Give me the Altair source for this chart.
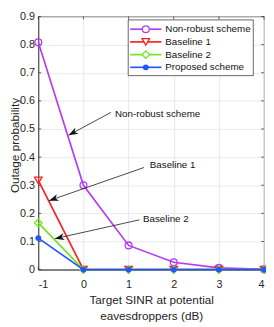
import math
import altair as alt
import pandas as pd

# ---------------- data ----------------
x_vals = [-1, 0, 1, 2, 3, 4]
nonrobust = [0.808, 0.300, 0.086, 0.026, 0.006, 0.001]
baseline1 = [0.317, 0.0, 0.0, 0.0, 0.0, 0.0]
baseline2 = [0.166, 0.0, 0.0, 0.0, 0.0, 0.0]
proposed = [0.112, 0.0, 0.0, 0.0, 0.0, 0.0]

series_names = ["Non-robust scheme", "Baseline 1", "Baseline 2", "Proposed scheme"]
series_values = [nonrobust, baseline1, baseline2, proposed]
series_colors = ["#B43CF0", "#FF1E1E", "#6EE61E", "#2256FF"]
series_shapes = ["circle", "triangle-down", "diamond", "circle"]
series_filled = [False, False, False, True]
series_sizes = [49, 60, 60, 36]

x_ticks = [-1, 0, 1, 2, 3, 4]
y_ticks = [0, 0.1, 0.2, 0.3, 0.4, 0.5, 0.6, 0.7, 0.8, 0.9]

ann_text = ["Non-robust scheme", "Baseline 1", "Baseline 2"]
ann_text_x = [0.70, 1.47, 1.32]
ann_text_y = [0.552, 0.370, 0.181]
ann_tail_x = [0.61, 1.34, 1.24]
ann_tail_y = [0.559, 0.363, 0.177]
ann_tip_x = [-0.33, -0.763, -0.634]
ann_tip_y = [0.478, 0.245, 0.110]

x_title = ["Target SINR at potential", "eavesdroppers (dB)"]
y_title = "Outage probability"

# ---------------- layout ----------------
W, H = 231, 259
PAD_L = 31
FONT = "Liberation Sans"
TXT = "#262626"

xs = alt.Scale(domain=[-1, 4], nice=False, zero=False)
ys = alt.Scale(domain=[0, 0.9], nice=False, zero=False)

x_axis = alt.Axis(values=x_ticks, labelExpr="replace(format(datum.value, 'd'), '\u2212', '-')",
                  title=x_title, grid=True,
                  ticks=False, tickSize=0, labelPadding=9, labelFontSize=11,
                  titleFontSize=12, titleLineHeight=16, titleX=W / 2, titleY=26,
                  titleBaseline="top", titleAlign="center")
y_axis = alt.Axis(values=y_ticks, format=".1~f", title=y_title, grid=True,
                  ticks=False, tickSize=0, labelPadding=4, labelFontSize=11,
                  titleFontSize=12, titleX=-(PAD_L - 6.5), titleY=H / 2 + 2, titleAngle=270,
                  titleBaseline="middle", titleAlign="center")


def X(field):
    return alt.X(field, type="quantitative", scale=xs, axis=x_axis)


def Y(field):
    return alt.Y(field, type="quantitative", scale=ys, axis=y_axis)


layers = []

# inward ticks on all four sides
dfx = pd.DataFrame({"x": x_ticks})
dfy = pd.DataFrame({"y": y_ticks})
tick_style = dict(color=TXT, strokeWidth=0.7)
layers.append(alt.Chart(dfx).mark_rule(**tick_style).encode(
    x=X("x"), y=alt.value(H), y2=alt.value(H - 3)))
layers.append(alt.Chart(dfx).mark_rule(**tick_style).encode(
    x=X("x"), y=alt.value(0), y2=alt.value(3)))
layers.append(alt.Chart(dfy).mark_rule(**tick_style).encode(
    y=Y("y"), x=alt.value(0), x2=alt.value(3)))
layers.append(alt.Chart(dfy).mark_rule(**tick_style).encode(
    y=Y("y"), x=alt.value(W), x2=alt.value(W - 3)))

# data series
for name, vals, col, shp, fil, sz in zip(series_names, series_values, series_colors,
                                          series_shapes, series_filled, series_sizes):
    df = pd.DataFrame({"x": x_vals, "y": vals})
    layers.append(alt.Chart(df).mark_line(color=col, strokeWidth=1.7).encode(
        x=X("x"), y=Y("y")))
    pt_kwargs = dict(shape=shp, filled=fil, size=sz, strokeWidth=1.3, opacity=1)
    if fil:
        pt_kwargs["color"] = col
    else:
        pt_kwargs["stroke"] = col
        pt_kwargs["fill"] = "transparent"
    layers.append(alt.Chart(df).mark_point(**pt_kwargs).encode(x=X("x"), y=Y("y")))

# annotations with arrows
sx = W / 5.0
sy = H / 0.9
angles = []
for tx, ty, hx, hy in zip(ann_tail_x, ann_tail_y, ann_tip_x, ann_tip_y):
    dx = (hx - tx) * sx
    dy = -(hy - ty) * sy
    angles.append(math.degrees(math.atan2(dx, -dy)) % 360)

ann = pd.DataFrame({
    "t": ann_text, "tx": ann_text_x, "ty": ann_text_y,
    "ax": ann_tail_x, "ay": ann_tail_y, "hx": ann_tip_x, "hy": ann_tip_y,
    "ang": angles,
})
layers.append(alt.Chart(ann).mark_rule(color="#1a1a1a", strokeWidth=0.8).encode(
    x=X("ax"), y=Y("ay"), x2="hx:Q", y2="hy:Q"))
arrow_path = "M0,0 L0.36,1 L0,0.72 L-0.36,1 Z"
layers.append(alt.Chart(ann).mark_point(shape=arrow_path, filled=True, color="#111111",
                                        size=380, opacity=1).encode(
    x=X("hx"), y=Y("hy"), angle=alt.Angle("ang:Q", scale=None)))
layers.append(alt.Chart(ann).mark_text(align="left", baseline="middle", font=FONT,
                                       fontSize=10, color="#111111").encode(
    x=X("tx"), y=Y("ty"), text="t:N"))

# legend (drawn as marks)
one = pd.DataFrame({"k": [0]})
LX0, LX1 = 92, 220
LY0, LY1 = 3.5, 60.5
row_y = [13, 26, 39, 52]
layers.append(alt.Chart(one).mark_rect(fill="white", stroke=TXT, strokeWidth=0.7).encode(
    x=alt.value(LX0), x2=alt.value(LX1), y=alt.value(LY0), y2=alt.value(LY1)))
for name, col, shp, fil, sz, ry in zip(series_names, series_colors, series_shapes,
                                       series_filled, series_sizes, row_y):
    layers.append(alt.Chart(one).mark_rule(color=col, strokeWidth=1.7).encode(
        x=alt.value(94), x2=alt.value(126), y=alt.value(ry)))
    pk = dict(shape=shp, filled=fil, size=sz, strokeWidth=1.3, opacity=1)
    if fil:
        pk["color"] = col
    else:
        pk["stroke"] = col
        pk["fill"] = "white"
    layers.append(alt.Chart(one).mark_point(**pk).encode(
        x=alt.value(110), y=alt.value(ry)))
    layers.append(alt.Chart(one).mark_text(align="left", baseline="middle", font=FONT,
                                           fontSize=10, color="#111111").encode(
        x=alt.value(130), y=alt.value(ry), text=alt.value(name)))

chart = alt.layer(*layers).properties(
    width=W, height=H,
    autosize=alt.AutoSizeParams(type="none"),
    padding={"left": PAD_L, "top": 5, "right": 2, "bottom": 54},
).configure_view(
    stroke=TXT, strokeWidth=0.8
).configure_axis(
    labelFont=FONT, titleFont=FONT, labelColor=TXT, titleColor=TXT,
    titleFontWeight="normal", domainColor=TXT, domainWidth=0.8,
    gridColor="#E3E3E3", gridWidth=0.8,
)

chart.save("out.html", embed_options={"renderer": "svg", "actions": False})
